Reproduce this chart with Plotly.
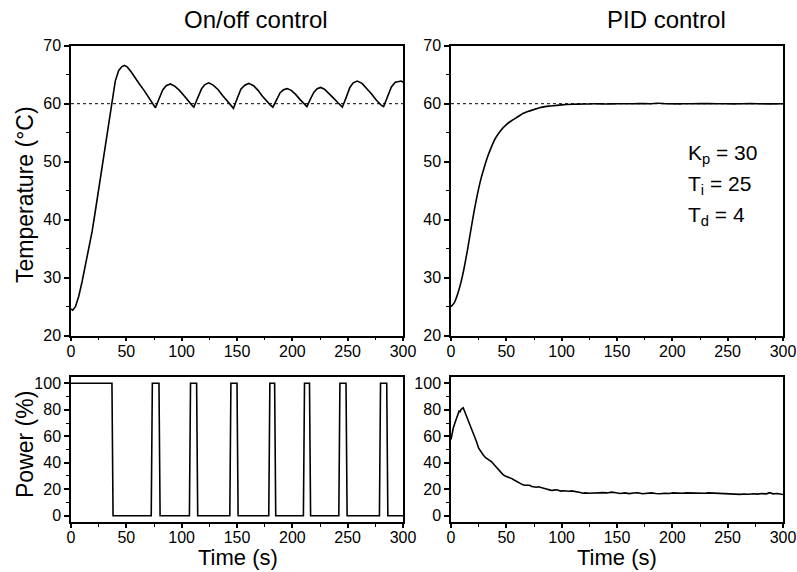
import plotly.graph_objects as go

# --------------------------------------------------
# Data
# --------------------------------------------------

onoff_time = [
    0, 1.5, 4, 7, 10, 13, 16, 19, 22, 25, 28, 31, 34, 37, 40, 43, 46, 48.2,
    51, 54.3, 58, 61.8, 66, 70, 74, 76.3,
    79.5, 83, 86, 89.8, 94, 98, 102, 106, 109, 111,
    114.3, 118, 121, 124.5, 128.5, 133, 137, 141, 144.5, 146.8,
    150, 153.5, 157, 160.7, 165, 169, 173, 177, 180, 182.4,
    185.5, 189, 192, 195.4, 199, 203, 207, 211, 213.2,
    216.3, 219.5, 222.5, 225.6, 229, 233, 237, 241, 243.5, 245.2,
    248.5, 252, 255, 258.7, 263, 267.5, 272, 276, 280, 282.5,
    285.8, 289.5, 293, 296.4, 298.5, 300,
]
onoff_temp = [
    24.6, 24.4, 25.0, 26.8, 29.3, 32.0, 34.9, 37.9, 41.5, 45.2, 49.0, 52.9, 56.9, 60.7, 63.9, 65.7, 66.4, 66.6,
    66.3, 65.5, 64.4, 63.4, 62.3, 61.1, 60.1, 59.3,
    60.8, 62.4, 63.1, 63.4, 63.0, 62.3, 61.4, 60.4, 59.8, 59.4,
    60.9, 62.6, 63.3, 63.6, 63.2, 62.4, 61.4, 60.5, 59.7, 59.2,
    60.8, 62.5, 63.2, 63.5, 63.1, 62.3, 61.3, 60.4, 59.8, 59.4,
    60.7, 61.9, 62.4, 62.6, 62.3, 61.6, 60.7, 59.9, 59.5,
    60.8, 62.0, 62.6, 62.8, 62.5, 61.8, 61.0, 60.2, 59.7, 59.4,
    61.0, 62.8, 63.6, 63.9, 63.5, 62.6, 61.6, 60.6, 59.8, 59.5,
    61.1, 62.9, 63.7, 63.9, 63.9, 63.7,
]

onoff_power_time = [
    0, 37, 38, 72.5, 73.5, 79.5, 80.5, 107, 108, 113.5, 114.5,
    143.5, 144.5, 150, 151, 178.7, 179.7, 184, 185, 210, 211,
    215.5, 216.5, 242, 243, 248.5, 249.5, 278.7, 279.7, 285.3, 286.3, 300,
]
onoff_power = [
    100, 100, 0, 0, 100, 100, 0, 0, 100, 100, 0,
    0, 100, 100, 0, 0, 100, 100, 0, 0, 100,
    100, 0, 0, 100, 100, 0, 0, 100, 100, 0, 0,
]

pid_time = [
    0, 3, 6, 9, 12, 15, 18, 21, 24, 27, 30, 33, 36, 40, 45, 50, 55, 60, 65,
    70, 75, 80, 85, 90, 95, 100, 110, 120, 130, 140, 150, 160, 170, 180,
    187, 195, 210, 225, 240, 255, 270, 285, 300,
]
pid_temp = [
    25.0, 25.7, 27.2, 29.2, 31.8, 34.9, 38.3, 41.6, 44.5, 47.0, 49.0, 50.8, 52.3, 54.0, 55.4, 56.4, 57.1, 57.7, 58.3,
    58.7, 59.0, 59.3, 59.5, 59.6, 59.7, 59.8, 59.9, 59.95, 60.0, 59.95, 60.0, 59.98, 60.02, 60.0,
    60.08, 60.0, 59.98, 60.02, 60.0, 59.97, 60.02, 59.97, 60.0,
]

pid_power_time = [
    0, 1, 2, 3.6, 5, 6.6, 7.5, 8.2, 9, 10, 11, 12, 14, 16, 18.7, 21, 23, 25, 27, 29,
    31, 33, 35, 37, 39, 41, 43, 45, 47, 49, 51, 53, 55, 57, 59, 61, 63, 65, 67, 69,
    71, 73, 75, 77, 79, 81, 83, 85, 87, 89, 91, 93, 95, 97, 99, 101, 103, 105, 107, 109,
    111, 113, 115, 117, 119, 121, 125, 129, 133, 137, 141, 145, 149, 153, 157, 161, 165, 169, 173, 177,
    181, 185, 189, 193, 197, 201, 205, 209, 213, 217, 221, 225, 229, 233, 237, 241, 245, 249, 253, 257,
    261, 265, 269, 273, 277, 281, 285, 288, 291, 295, 298, 300,
]
pid_power = [
    57.5, 62, 66, 70.2, 74, 77.8, 79.5, 78.2, 80.2, 80.8, 81.5, 79.5, 75.2, 71, 66.4, 61, 56, 51, 48, 46,
    44, 43, 42, 40.5, 38.5, 36.5, 34.5, 32.5, 31, 30, 29.5, 29, 28, 27, 26, 25, 24, 23.3, 23, 22.8,
    23, 22, 21.5, 21.5, 21.8, 21.2, 20.8, 20.5, 20, 19.5, 19, 19.3, 19.6, 19.2, 18.6, 18.8, 18.6, 18.8, 18.5, 18.7,
    18.4, 18.6, 18.2, 17.5, 17.0, 17.2, 17.0, 17.3, 17.1, 17.4, 17.2, 17.8, 17.3, 16.8, 17.2, 16.7, 17.1, 17.3, 16.6, 16.9,
    17.2, 16.8, 16.6, 17.0, 16.8, 17.2, 17.0, 16.9, 17.2, 17.0, 16.8, 17.1, 16.9, 17.2, 17.0, 16.7, 16.9, 16.5, 16.6, 16.3,
    16.1, 16.4, 16.2, 16.6, 16.3, 16.7, 16.5, 17.4, 16.5, 16.8, 16.2, 16.0,
]

setpoint_time = [0, 300]
setpoint_temp = [60, 60]

x_ticks = [0, 50, 100, 150, 200, 250, 300]
temp_ticks = [20, 30, 40, 50, 60, 70]
power_ticks = [0, 20, 40, 60, 80, 100]

FONT = "Liberation Sans, Arial, sans-serif"
W, H = 797, 572

fig = go.Figure()

# --------------------------------------------------
# Traces
# --------------------------------------------------

line = dict(color="black", width=1.6)
dotted = dict(color="black", width=1, dash="dot")

fig.add_trace(go.Scatter(x=onoff_time, y=onoff_temp, mode="lines",
                         line=line, xaxis="x", yaxis="y"))
fig.add_trace(go.Scatter(x=setpoint_time, y=setpoint_temp, mode="lines",
                         line=dotted, xaxis="x", yaxis="y"))

fig.add_trace(go.Scatter(x=pid_time, y=pid_temp, mode="lines",
                         line=dict(color="black", width=1.6, shape="spline", smoothing=0.5),
                         xaxis="x2", yaxis="y2"))
fig.add_trace(go.Scatter(x=setpoint_time, y=setpoint_temp, mode="lines",
                         line=dotted, xaxis="x2", yaxis="y2"))

fig.add_trace(go.Scatter(x=onoff_power_time, y=onoff_power, mode="lines",
                         line=line, xaxis="x3", yaxis="y3"))

fig.add_trace(go.Scatter(x=pid_power_time, y=pid_power, mode="lines",
                         line=line, xaxis="x4", yaxis="y4"))

# --------------------------------------------------
# Axes
# --------------------------------------------------


def px_x(a, b):
    return [a / W, b / W]


def px_y(top, bottom):
    return [1 - bottom / H, 1 - top / H]


axis_common = dict(
    showline=True,
    linecolor="black",
    linewidth=1.5,
    mirror=True,
    ticks="outside",
    ticklen=5,
    tickwidth=1.5,
    tickcolor="black",
    showgrid=False,
    zeroline=False,
    tickfont=dict(size=16, color="black", family=FONT),
    automargin=False,
)

minor = dict(ticks="outside", ticklen=3, tickwidth=1, tickcolor="black", tick0=0)

x_common = dict(axis_common, range=[0, 300], tickvals=x_ticks, ticklen=4,
                ticklabelstandoff=-4, minor=dict(minor, dtick=25))
temp_common = dict(axis_common, range=[20, 70], tickvals=temp_ticks, minor=dict(minor, dtick=5))
power_common = dict(axis_common, range=[-5, 105], tickvals=power_ticks, minor=dict(minor, dtick=10))

left_x = px_x(71, 403)
right_x = px_x(451, 783)
top_y = px_y(45.7, 335.7)
bottom_y = px_y(376.7, 522.3)

fig.update_layout(
    xaxis=dict(x_common, domain=left_x, anchor="y"),
    yaxis=dict(temp_common, domain=top_y, anchor="x"),
    xaxis2=dict(x_common, domain=right_x, anchor="y2"),
    yaxis2=dict(temp_common, domain=top_y, anchor="x2"),
    xaxis3=dict(x_common, domain=left_x, anchor="y3"),
    yaxis3=dict(power_common, domain=bottom_y, anchor="x3"),
    xaxis4=dict(x_common, domain=right_x, anchor="y4"),
    yaxis4=dict(power_common, domain=bottom_y, anchor="x4"),
)

# --------------------------------------------------
# Text
# --------------------------------------------------


def text(s, x, y, size=23, angle=0, xanchor="center"):
    fig.add_annotation(
        text=s, x=x / W, y=1 - y / H, xref="paper", yref="paper",
        showarrow=False, textangle=angle, xanchor=xanchor, yanchor="middle",
        borderpad=0, font=dict(size=size, color="black", family=FONT),
    )


text("On/off control", 256, 19, size=24)
text("PID control", 666, 19, size=24)
text("Temperature (°C)", 25, 195, angle=-90)
text("Power (%)", 25, 445, angle=-90)
text("Time (s)", 238, 557, size=22)
text("Time (s)", 617, 557, size=22)

text("K<sub>p</sub> = 30", 687, 154, size=21, xanchor="left")
text("T<sub>i</sub> = 25", 687, 185, size=21, xanchor="left")
text("T<sub>d</sub> = 4", 687, 216, size=21, xanchor="left")

fig.update_layout(
    width=W,
    height=H,
    margin=dict(l=0, r=0, t=0, b=0),
    paper_bgcolor="white",
    plot_bgcolor="white",
    showlegend=False,
    font=dict(family=FONT, color="black"),
)

# drop the page's default body margin so the figure fills the window
fig.write_html(
    "out.html",
    config={"displayModeBar": False},
    post_script="document.body.style.margin='0';document.documentElement.style.overflow='hidden';",
)
